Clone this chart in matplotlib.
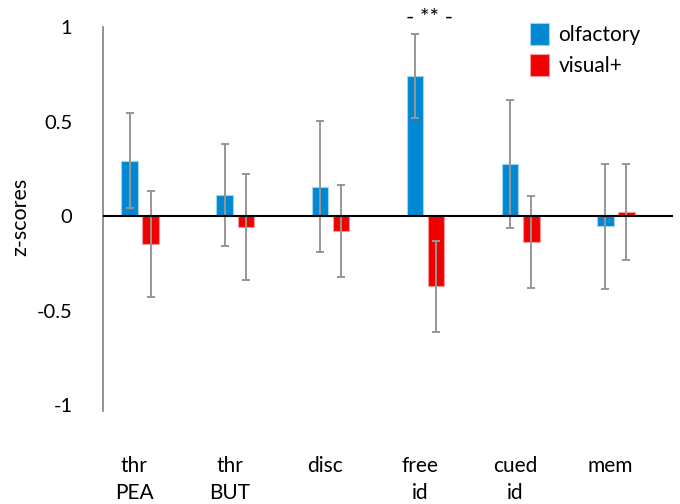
import matplotlib
matplotlib.use("Agg")
import matplotlib.pyplot as plt
import numpy as np

categories = ["thr\nPEA", "thr\nBUT", "disc", "free\nid", "cued\nid", "mem"]
olfactory = [0.293, 0.112, 0.156, 0.741, 0.276, -0.054]
olfactory_err = [0.252, 0.272, 0.345, 0.224, 0.336, 0.330]
visual = [-0.146, -0.056, -0.079, -0.370, -0.137, 0.023]
visual_err = [0.279, 0.280, 0.243, 0.240, 0.243, 0.255]
yticks = [-1, -0.5, 0, 0.5, 1]
ytick_labels = ["-1", "-0.5", "0", "0.5", "1"]
sig_label = "- ** -"
sig_index = 3

plt.rcParams['font.family'] = ['Lato', 'DejaVu Sans']

fig = plt.figure(figsize=(6.8, 5.04), dpi=100)
ax = fig.add_axes([103/680, 1-411/504, (673-103)/680, (411-27)/504])

x = np.arange(len(categories))
w = 0.174
off = 0.111
blue = "#0288D1"
red = "#F20000"
ecol = "#969696"

ax.bar(x - off, olfactory, w, color=blue, edgecolor="#9fd3f0", linewidth=0.8,
       label="olfactory", zorder=2)
ax.bar(x + off, visual, w, color=red, edgecolor="#f79a9a", linewidth=0.8,
       label="visual+", zorder=2)
ax.errorbar(x - off, olfactory, yerr=olfactory_err, fmt="none", ecolor=ecol,
            elinewidth=1.4, capsize=3, capthick=1.4, zorder=3)
ax.errorbar(x + off, visual, yerr=visual_err, fmt="none", ecolor=ecol,
            elinewidth=1.4, capsize=3, capthick=1.4, zorder=3)

ax.axhline(0, color="black", linewidth=1.5, zorder=4)

ax.set_xlim(-0.39, 5.60)
ax.set_ylim(-1.03, 1.0)
ax.set_yticks(yticks)
ax.set_yticklabels(ytick_labels, fontsize=14.5)
ax.tick_params(axis="y", length=0, pad=22)
ax.set_xticks([])
for i, c in enumerate(categories):
    ax.text(i - 0.06, -1.27, c, ha="center", va="top", fontsize=15,
            linespacing=1.4, transform=ax.transData, clip_on=False)

for s in ["top", "right", "bottom"]:
    ax.spines[s].set_visible(False)
ax.spines["left"].set_color("#7f7f7f")
ax.spines["left"].set_linewidth(1.2)

ax.set_ylabel("z-scores", fontsize=15.5)
ax.yaxis.set_label_coords(-0.128, 0.505)

ax.text(sig_index + 0.04, 1.045, sig_label, ha="center", va="center", fontsize=16,
        clip_on=False)

leg = ax.legend(loc="upper left", bbox_to_anchor=(0.717, 1.06), frameon=False,
                fontsize=15, handlelength=0.9, handleheight=1.25,
                handletextpad=0.45, labelspacing=0.45)

fig.savefig("out.png", dpi=100)
